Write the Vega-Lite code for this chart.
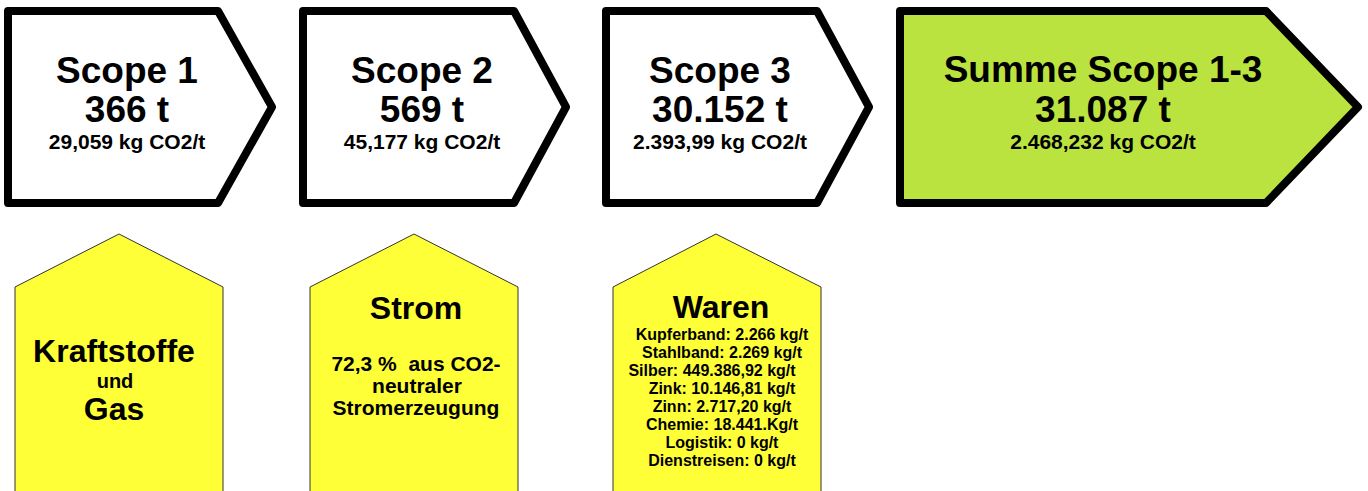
{
  "$schema": "https://vega.github.io/schema/vega-lite/v6.json",
  "width": 1368,
  "height": 491,
  "autosize": {"type": "fit", "contains": "padding"},
  "padding": 0,
  "background": "white",
  "config": {"view": {"stroke": null}},
  "datasets": {
    "formen": [
      {"form": "A1", "art": "scope", "i": 0, "x": 8, "y": 11},
      {"form": "A1", "art": "scope", "i": 1, "x": 218, "y": 11},
      {"form": "A1", "art": "scope", "i": 2, "x": 272, "y": 107},
      {"form": "A1", "art": "scope", "i": 3, "x": 218, "y": 203},
      {"form": "A1", "art": "scope", "i": 4, "x": 8, "y": 203},
      {"form": "A1", "art": "scope", "i": 5, "x": 8, "y": 11},
      {"form": "A2", "art": "scope", "i": 0, "x": 303, "y": 11},
      {"form": "A2", "art": "scope", "i": 1, "x": 514, "y": 11},
      {"form": "A2", "art": "scope", "i": 2, "x": 566, "y": 107},
      {"form": "A2", "art": "scope", "i": 3, "x": 514, "y": 203},
      {"form": "A2", "art": "scope", "i": 4, "x": 303, "y": 203},
      {"form": "A2", "art": "scope", "i": 5, "x": 303, "y": 11},
      {"form": "A3", "art": "scope", "i": 0, "x": 606, "y": 11},
      {"form": "A3", "art": "scope", "i": 1, "x": 817, "y": 11},
      {"form": "A3", "art": "scope", "i": 2, "x": 869, "y": 107},
      {"form": "A3", "art": "scope", "i": 3, "x": 817, "y": 203},
      {"form": "A3", "art": "scope", "i": 4, "x": 606, "y": 203},
      {"form": "A3", "art": "scope", "i": 5, "x": 606, "y": 11},
      {"form": "A4", "art": "summe", "i": 0, "x": 900, "y": 11},
      {"form": "A4", "art": "summe", "i": 1, "x": 1266, "y": 11},
      {"form": "A4", "art": "summe", "i": 2, "x": 1358, "y": 107},
      {"form": "A4", "art": "summe", "i": 3, "x": 1266, "y": 203},
      {"form": "A4", "art": "summe", "i": 4, "x": 900, "y": 203},
      {"form": "A4", "art": "summe", "i": 5, "x": 900, "y": 11},
      {"form": "H1", "art": "quelle", "i": 0, "x": 15, "y": 492},
      {"form": "H1", "art": "quelle", "i": 1, "x": 15, "y": 287},
      {"form": "H1", "art": "quelle", "i": 2, "x": 119, "y": 234},
      {"form": "H1", "art": "quelle", "i": 3, "x": 223, "y": 287},
      {"form": "H1", "art": "quelle", "i": 4, "x": 223, "y": 492},
      {"form": "H2", "art": "quelle", "i": 0, "x": 310, "y": 492},
      {"form": "H2", "art": "quelle", "i": 1, "x": 310, "y": 287},
      {"form": "H2", "art": "quelle", "i": 2, "x": 414, "y": 234},
      {"form": "H2", "art": "quelle", "i": 3, "x": 518, "y": 287},
      {"form": "H2", "art": "quelle", "i": 4, "x": 518, "y": 492},
      {"form": "H3", "art": "quelle", "i": 0, "x": 613, "y": 492},
      {"form": "H3", "art": "quelle", "i": 1, "x": 613, "y": 287},
      {"form": "H3", "art": "quelle", "i": 2, "x": 716, "y": 234},
      {"form": "H3", "art": "quelle", "i": 3, "x": 821, "y": 287},
      {"form": "H3", "art": "quelle", "i": 4, "x": 821, "y": 492}
    ],
    "texte": [
      {"art": "titel", "x": 127, "y": 83, "text": "Scope 1"},
      {"art": "titel", "x": 422, "y": 83, "text": "Scope 2"},
      {"art": "titel", "x": 720, "y": 83, "text": "Scope 3"},
      {"art": "titel", "x": 1103, "y": 82, "text": "Summe Scope 1-3"},
      {"art": "wert", "x": 127, "y": 122, "text": "366 t"},
      {"art": "wert", "x": 422, "y": 122, "text": "569 t"},
      {"art": "wert", "x": 720, "y": 122, "text": "30.152 t"},
      {"art": "wert", "x": 1103, "y": 122, "text": "31.087 t"},
      {"art": "einheit", "x": 127, "y": 149, "text": "29,059 kg CO2/t"},
      {"art": "einheit", "x": 422, "y": 149, "text": "45,177 kg CO2/t"},
      {"art": "einheit", "x": 720, "y": 149, "text": "2.393,99 kg CO2/t"},
      {"art": "einheit", "x": 1103, "y": 149, "text": "2.468,232 kg CO2/t"},
      {"art": "quelle_titel", "x": 114, "y": 362, "text": "Kraftstoffe"},
      {"art": "quelle_klein", "x": 115, "y": 388, "text": "und"},
      {"art": "quelle_titel", "x": 114, "y": 420, "text": "Gas"},
      {"art": "quelle_titel", "x": 416, "y": 319, "text": "Strom"},
      {"art": "quelle_text", "x": 416, "y": 371, "text": "72,3 %\u00a0 aus CO2-"},
      {"art": "quelle_text", "x": 417, "y": 393, "text": "neutraler"},
      {"art": "quelle_text", "x": 416, "y": 415, "text": "Stromerzeugung"},
      {"art": "quelle_titel", "x": 721, "y": 318, "text": "Waren"},
      {"art": "liste", "x": 722, "y": 340, "text": "Kupferband: 2.266 kg/t"},
      {"art": "liste", "x": 722, "y": 358, "text": "Stahlband: 2.269 kg/t"},
      {"art": "liste", "x": 712, "y": 376, "text": "Silber: 449.386,92 kg/t"},
      {"art": "liste", "x": 722, "y": 394, "text": "Zink: 10.146,81 kg/t"},
      {"art": "liste", "x": 722, "y": 412, "text": "Zinn: 2.717,20 kg/t"},
      {"art": "liste", "x": 722, "y": 430, "text": "Chemie: 18.441.Kg/t"},
      {"art": "liste", "x": 722, "y": 448, "text": "Logistik: 0 kg/t"},
      {"art": "liste", "x": 722, "y": 466, "text": "Dienstreisen: 0 kg/t"}
    ]
  },
  "encoding": {
    "x": {"field": "x", "type": "quantitative", "scale": {"domain": [0, 1368], "nice": false, "zero": false}, "axis": null},
    "y": {"field": "y", "type": "quantitative", "scale": {"domain": [0, 491], "nice": false, "zero": false, "reverse": true}, "axis": null}
  },
  "layer": [
    {
      "data": {"name": "formen"},
      "transform": [{"filter": "datum.art === 'scope'"}],
      "mark": {"type": "line", "fill": "white", "stroke": "black", "strokeWidth": 8, "strokeJoin": "round", "strokeCap": "round", "clip": true},
      "encoding": {"detail": {"field": "form"}, "order": {"field": "i", "type": "quantitative"}}
    },
    {
      "data": {"name": "formen"},
      "transform": [{"filter": "datum.art === 'summe'"}],
      "mark": {"type": "line", "fill": "#bbe33f", "stroke": "black", "strokeWidth": 8, "strokeJoin": "round", "strokeCap": "round", "clip": true},
      "encoding": {"detail": {"field": "form"}, "order": {"field": "i", "type": "quantitative"}}
    },
    {
      "data": {"name": "formen"},
      "transform": [{"filter": "datum.art === 'quelle'"}],
      "mark": {"type": "line", "fill": "#ffff38", "stroke": "#333333", "strokeWidth": 1, "clip": true},
      "encoding": {"detail": {"field": "form"}, "order": {"field": "i", "type": "quantitative"}}
    },
    {
      "data": {"name": "texte"},
      "transform": [{"filter": "datum.art === 'titel' || datum.art === 'wert'"}],
      "mark": {"type": "text", "font": "Liberation Sans", "fontWeight": "bold", "fontSize": 37, "align": "center", "baseline": "alphabetic", "color": "black"},
      "encoding": {"text": {"field": "text"}}
    },
    {
      "data": {"name": "texte"},
      "transform": [{"filter": "datum.art === 'einheit' || datum.art === 'quelle_text'"}],
      "mark": {"type": "text", "font": "Liberation Sans", "fontWeight": "bold", "fontSize": 21, "align": "center", "baseline": "alphabetic", "color": "black"},
      "encoding": {"text": {"field": "text"}}
    },
    {
      "data": {"name": "texte"},
      "transform": [{"filter": "datum.art === 'quelle_titel'"}],
      "mark": {"type": "text", "font": "Liberation Sans", "fontWeight": "bold", "fontSize": 32, "align": "center", "baseline": "alphabetic", "color": "black"},
      "encoding": {"text": {"field": "text"}}
    },
    {
      "data": {"name": "texte"},
      "transform": [{"filter": "datum.art === 'quelle_klein'"}],
      "mark": {"type": "text", "font": "Liberation Sans", "fontWeight": "bold", "fontSize": 20, "align": "center", "baseline": "alphabetic", "color": "black"},
      "encoding": {"text": {"field": "text"}}
    },
    {
      "data": {"name": "texte"},
      "transform": [{"filter": "datum.art === 'liste'"}],
      "mark": {"type": "text", "font": "Liberation Sans", "fontWeight": "bold", "fontSize": 16, "align": "center", "baseline": "alphabetic", "color": "black"},
      "encoding": {"text": {"field": "text"}}
    }
  ]
}
